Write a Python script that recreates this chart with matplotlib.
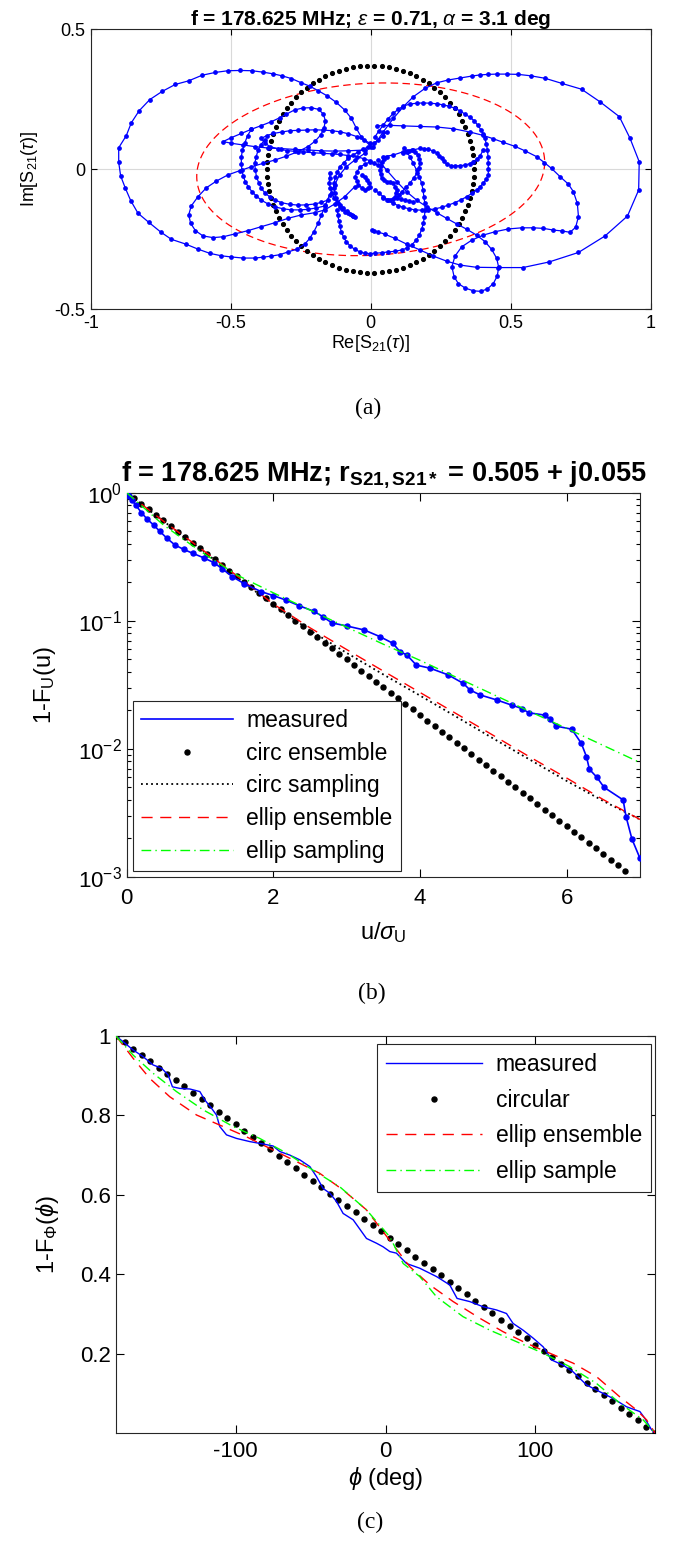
import numpy as np
import matplotlib
matplotlib.use('Agg')
import matplotlib.pyplot as plt
from matplotlib.lines import Line2D
from matplotlib.ticker import LogLocator, NullFormatter

plt.rcParams['font.family'] = ['Liberation Sans', 'DejaVu Sans']
plt.rcParams['mathtext.fontset'] = 'custom'
plt.rcParams['mathtext.rm'] = 'Liberation Sans'
plt.rcParams['mathtext.it'] = 'Liberation Sans:italic'
plt.rcParams['mathtext.bf'] = 'Liberation Sans:bold'
plt.rcParams['axes.unicode_minus'] = False

# ---------------- DATA: panel (a) ----------------
path_outer_left = [(0.002,0.081),(-0.033,0.114),(-0.051,0.146),(-0.069,0.182),(-0.093,0.212),(-0.123,0.239),(-0.155,0.262),(-0.188,0.281),(-0.218,0.297),(-0.248,0.309),(-0.283,0.324),(-0.317,0.334),(-0.349,0.341),(-0.385,0.347),(-0.424,0.352),(-0.466,0.353),(-0.510,0.352),(-0.555,0.346),(-0.602,0.336),(-0.650,0.316),(-0.698,0.303),(-0.745,0.278),(-0.789,0.249),(-0.827,0.209),(-0.855,0.166),(-0.873,0.120),(-0.900,0.077),(-0.900,0.025),(-0.893,-0.024),(-0.876,-0.068),(-0.857,-0.112),(-0.831,-0.157),(-0.793,-0.189),(-0.750,-0.224),(-0.712,-0.250),(-0.661,-0.267),(-0.617,-0.285),(-0.575,-0.300),(-0.533,-0.309),(-0.498,-0.313),(-0.456,-0.317),(-0.414,-0.317),(-0.385,-0.314),(-0.355,-0.310),(-0.325,-0.305),(-0.295,-0.295),(-0.263,-0.285),(-0.236,-0.268),(-0.218,-0.247),(-0.203,-0.223),(-0.188,-0.193),(-0.176,-0.163),(-0.162,-0.128),(-0.147,-0.092),(-0.129,-0.056),(-0.111,-0.020),(-0.087,0.009),(-0.057,0.033),(-0.021,0.057)]
path_outer_right = [(0.009,0.081),(0.045,0.134),(0.081,0.182),(0.117,0.224),(0.152,0.259),(0.194,0.289),(0.236,0.309),(0.277,0.319),(0.319,0.326),(0.361,0.333),(0.390,0.337),(0.420,0.339),(0.450,0.340),(0.486,0.340),(0.527,0.339),(0.571,0.334),(0.623,0.325),(0.682,0.307),(0.753,0.286),(0.819,0.241),(0.888,0.188),(0.926,0.111),(0.959,0.027),(0.957,-0.074),(0.917,-0.167),(0.837,-0.238),(0.742,-0.297),(0.637,-0.331),(0.543,-0.351),(0.456,-0.351),(0.378,-0.350),(0.319,-0.342),(0.271,-0.328),(0.224,-0.310),(0.176,-0.288),(0.128,-0.267),(0.087,-0.247),(0.051,-0.232),(0.027,-0.224),(0.012,-0.219),(0.005,-0.217)]
path_left_lobes = [(-0.021,0.069),(-0.081,0.066),(-0.129,0.065),(-0.176,0.066),(-0.224,0.069),(-0.272,0.071),(-0.319,0.074),(-0.367,0.076),(-0.414,0.081),(-0.456,0.087),(-0.498,0.093),(-0.527,0.099),(-0.498,0.113),(-0.462,0.128),(-0.426,0.143),(-0.391,0.156),(-0.355,0.170),(-0.325,0.184),(-0.301,0.197),(-0.272,0.212),(-0.242,0.219),(-0.212,0.220),(-0.186,0.214),(-0.169,0.197),(-0.162,0.174),(-0.167,0.146),(-0.179,0.122),(-0.198,0.101),(-0.224,0.081),(-0.260,0.063),(-0.301,0.047),(-0.343,0.033),(-0.385,0.021),(-0.426,0.009),(-0.468,-0.005),(-0.510,-0.020),(-0.551,-0.042),(-0.587,-0.066),(-0.617,-0.098),(-0.641,-0.131),(-0.650,-0.163),(-0.643,-0.193),(-0.626,-0.219),(-0.599,-0.238),(-0.563,-0.244),(-0.527,-0.241),(-0.486,-0.231),(-0.438,-0.219),(-0.391,-0.205),(-0.343,-0.191),(-0.295,-0.175),(-0.248,-0.163),(-0.200,-0.155),(-0.164,-0.145),(-0.129,-0.124),(-0.093,-0.098),(-0.057,-0.062)]
path_leaf = [(-0.003,0.093),(-0.025,0.106),(-0.050,0.117),(-0.080,0.127),(-0.110,0.134),(-0.140,0.138),(-0.169,0.140),(-0.200,0.141),(-0.229,0.140),(-0.259,0.139),(-0.288,0.138),(-0.318,0.133),(-0.348,0.128),(-0.372,0.120),(-0.391,0.110),(-0.378,0.094),(-0.360,0.081),(-0.330,0.073),(-0.300,0.067),(-0.270,0.064),(-0.241,0.062),(-0.205,0.059),(-0.169,0.057),(-0.140,0.055),(-0.110,0.053),(-0.080,0.049),(-0.050,0.045),(-0.025,0.038),(-0.003,0.031)]
path_left_c1 = [(-0.426,0.143),(-0.440,0.120),(-0.450,0.093),(-0.458,0.068),(-0.462,0.045),(-0.462,0.020),(-0.460,-0.003),(-0.455,-0.024),(-0.448,-0.044),(-0.437,-0.063),(-0.424,-0.080),(-0.408,-0.096),(-0.391,-0.110),(-0.368,-0.123),(-0.343,-0.134),(-0.313,-0.141),(-0.283,-0.145),(-0.253,-0.145),(-0.224,-0.143),(-0.194,-0.138),(-0.164,-0.131)]
path_left_c2 = [(-0.379,0.105),(-0.392,0.088),(-0.402,0.069),(-0.409,0.045),(-0.414,0.021),(-0.412,-0.003),(-0.408,-0.026),(-0.400,-0.048),(-0.391,-0.068),(-0.377,-0.085),(-0.361,-0.098),(-0.341,-0.110),(-0.319,-0.119),(-0.290,-0.125),(-0.260,-0.128),(-0.230,-0.127),(-0.200,-0.124),(-0.176,-0.118),(-0.153,-0.110)]
path_right_c = [(0.015,0.116),(0.030,0.138),(0.045,0.158),(0.062,0.180),(0.081,0.200),(0.098,0.214),(0.117,0.226),(0.140,0.233),(0.164,0.236),(0.188,0.237),(0.212,0.236),(0.236,0.234),(0.259,0.230),(0.281,0.225),(0.301,0.218),(0.320,0.208),(0.337,0.197),(0.354,0.186),(0.369,0.174),(0.382,0.158),(0.393,0.142),(0.402,0.126),(0.408,0.110),(0.413,0.090),(0.417,0.069),(0.419,0.045),(0.420,0.021),(0.420,0.000),(0.420,-0.020),(0.412,-0.036),(0.402,-0.050),(0.391,-0.062),(0.378,-0.074),(0.361,-0.086),(0.343,-0.098),(0.322,-0.109),(0.301,-0.119),(0.277,-0.128),(0.253,-0.136),(0.230,-0.141),(0.206,-0.145),(0.182,-0.146),(0.158,-0.145),(0.137,-0.141),(0.117,-0.136),(0.099,-0.130),(0.081,-0.122),(0.063,-0.111),(0.045,-0.098),(0.030,-0.086),(0.015,-0.074)]
path_right_lobes = [(0.021,0.155),(0.069,0.157),(0.117,0.155),(0.176,0.153),(0.236,0.151),(0.295,0.145),(0.355,0.133),(0.402,0.121),(0.438,0.109),(0.474,0.096),(0.515,0.082),(0.551,0.066),(0.593,0.045),(0.620,0.024),(0.646,0.003),(0.676,-0.026),(0.706,-0.053),(0.724,-0.080),(0.738,-0.122),(0.742,-0.169),(0.732,-0.207),(0.712,-0.225),(0.682,-0.220),(0.652,-0.217),(0.617,-0.211),(0.581,-0.209),(0.539,-0.209),(0.492,-0.213),(0.444,-0.223),(0.402,-0.235),(0.361,-0.253),(0.325,-0.277),(0.301,-0.310),(0.290,-0.348),(0.298,-0.384),(0.313,-0.408),(0.337,-0.424),(0.367,-0.434),(0.393,-0.436),(0.417,-0.427),(0.438,-0.408),(0.452,-0.381),(0.457,-0.350),(0.450,-0.318),(0.432,-0.286),(0.408,-0.258),(0.378,-0.235),(0.343,-0.214),(0.307,-0.195),(0.271,-0.175),(0.236,-0.155),(0.200,-0.134),(0.164,-0.110),(0.128,-0.080),(0.093,-0.044),(0.057,-0.003),(0.027,0.033)]
path_wave = [(0.045,0.045),(0.081,0.051),(0.117,0.063),(0.135,0.067),(0.152,0.069),(0.176,0.075),(0.192,0.074),(0.206,0.071),(0.222,0.066),(0.236,0.059),(0.245,0.049),(0.253,0.039),(0.262,0.028),(0.271,0.019),(0.286,0.013),(0.301,0.012),(0.320,0.013),(0.337,0.015),(0.353,0.020),(0.367,0.027),(0.380,0.036),(0.390,0.047),(0.402,0.069)]
path_inner_c = [(0.120,0.075),(0.130,0.060),(0.140,0.045),(0.152,0.021),(0.164,-0.003),(0.174,-0.027),(0.182,-0.050),(0.187,-0.074),(0.190,-0.098),(0.193,-0.121),(0.194,-0.145),(0.192,-0.169),(0.188,-0.193),(0.182,-0.214),(0.174,-0.235),(0.162,-0.254),(0.146,-0.270),(0.130,-0.281),(0.111,-0.288),(0.087,-0.293),(0.063,-0.295),(0.039,-0.298),(0.015,-0.300),(-0.003,-0.301),(-0.021,-0.300),(-0.040,-0.294),(-0.057,-0.286),(-0.073,-0.274),(-0.087,-0.259),(-0.097,-0.242),(-0.105,-0.223),(-0.110,-0.204),(-0.114,-0.184),(-0.117,-0.165),(-0.119,-0.145)]
path_center_1 = [(-0.145,-0.014),(-0.147,-0.032),(-0.148,-0.050),(-0.144,-0.068),(-0.139,-0.086),(-0.131,-0.101),(-0.121,-0.116),(-0.110,-0.128),(-0.098,-0.139),(-0.086,-0.150),(-0.074,-0.160),(-0.064,-0.166),(-0.056,-0.172),(-0.062,-0.168),(-0.068,-0.163),(-0.080,-0.157),(-0.092,-0.151),(-0.101,-0.142),(-0.110,-0.133),(-0.118,-0.119),(-0.124,-0.104),(-0.128,-0.086),(-0.131,-0.068),(-0.130,-0.048),(-0.127,-0.028),(-0.119,-0.010),(-0.110,0.009),(-0.096,0.024),(-0.080,0.039),(-0.062,0.051),(-0.044,0.063),(-0.026,0.072),(-0.008,0.081),(0.010,0.093),(0.027,0.105),(0.043,0.120),(0.057,0.134)]
path_center_2 = [(0.057,0.045),(0.047,0.036),(0.039,0.027),(0.035,0.012),(0.033,-0.002),(0.035,-0.017),(0.039,-0.032),(0.047,-0.039),(0.057,-0.044),(0.069,-0.047),(0.081,-0.050),(0.088,-0.062),(0.093,-0.074),(0.091,-0.086),(0.087,-0.098),(0.078,-0.105),(0.069,-0.110),(0.057,-0.108),(0.045,-0.104)]
path_center_3 = [(0.116,0.057),(0.131,0.064),(0.146,0.069),(0.159,0.061),(0.170,0.051),(0.174,0.036),(0.176,0.021),(0.171,0.003),(0.164,-0.015),(0.153,-0.032),(0.140,-0.050),(0.126,-0.065),(0.111,-0.080),(0.101,-0.092),(0.093,-0.104),(0.108,-0.107),(0.122,-0.110),(0.137,-0.113),(0.152,-0.116)]
path_center_4 = [(-0.032,-0.020),(-0.022,-0.029),(-0.014,-0.038),(-0.007,-0.050),(-0.002,-0.062),(-0.011,-0.068),(-0.020,-0.074),(-0.032,-0.066),(-0.044,-0.056),(-0.050,-0.041),(-0.056,-0.026),(-0.048,-0.008),(-0.038,0.009),(-0.020,0.018),(-0.003,0.027),(0.012,0.021),(0.027,0.015)]

traj_paths = [path_outer_left, path_outer_right, path_left_lobes, path_leaf, path_left_c1,
              path_left_c2, path_right_c, path_right_lobes, path_wave, path_inner_c,
              path_center_1, path_center_2, path_center_3, path_center_4]

circ_radius = 0.37
circ_npts = 90
ell_a, ell_b, ell_tilt_deg = 0.622, 0.307, 3.1

# ---------------- DATA: panel (b) ----------------
meas_u = [0, 0.03, 0.07, 0.123, 0.2, 0.28, 0.366, 0.45, 0.55, 0.659, 0.78, 0.902, 1.05, 1.19, 1.3, 1.44, 1.6, 1.83, 2.0, 2.17, 2.35, 2.56, 2.68, 2.80, 3.0, 3.24, 3.455, 3.63, 3.727, 3.82, 3.95, 4.14, 4.385, 4.59, 4.68, 4.82, 5.05, 5.25, 5.39, 5.48, 5.70, 5.77, 5.86, 6.07, 6.20, 6.27, 6.31, 6.41, 6.51, 6.77, 6.81, 6.89, 7.0]
meas_ccdf = [1.0, 0.95, 0.88, 0.80, 0.70, 0.62, 0.56, 0.50, 0.44, 0.39, 0.36, 0.336, 0.31, 0.284, 0.255, 0.221, 0.195, 0.169, 0.157, 0.145, 0.131, 0.118, 0.107, 0.096, 0.091, 0.0846, 0.075, 0.0666, 0.0573, 0.054, 0.045, 0.0425, 0.0377, 0.0324, 0.0288, 0.0263, 0.024, 0.0219, 0.0206, 0.0191, 0.0183, 0.017, 0.015, 0.0142, 0.011, 0.00866, 0.0069, 0.0060, 0.00499, 0.00398, 0.00294, 0.00197, 0.00139]
circ_ens_u_max, circ_ens_step = 6.8, 0.1     # Rayleigh ensemble: 1-F = exp(-u)
model_u = [0, 0.5, 1, 1.5, 2, 2.5, 3, 3.5, 4, 4.5, 5, 5.5, 6, 6.5, 7]
circ_samp_ccdf = [1, 0.60, 0.365, 0.22, 0.132, 0.084, 0.056, 0.038, 0.026, 0.0177, 0.012, 0.0082, 0.0056, 0.0039, 0.0028]
ellip_ens_ccdf = [1, 0.60, 0.37, 0.225, 0.135, 0.088, 0.0595, 0.0404, 0.0275, 0.0187, 0.0127, 0.0086, 0.0059, 0.0040, 0.0028]
ellip_samp_ccdf = [1, 0.56, 0.35, 0.228, 0.165, 0.121, 0.089, 0.0655, 0.049, 0.036, 0.0265, 0.0195, 0.0144, 0.0106, 0.0078]

# ---------------- DATA: panel (c) ----------------
meas_phi = [-180, -174.1, -168.6, -161.9, -155.2, -149.6, -145.2, -142.3, -137.4, -130.7, -124.0, -120.7, -116.2, -112.9, -110.7, -106.2, -99.5, -90.6, -81.8, -75.1, -70.6, -63.9, -57.2, -50.5, -46.1, -41.7, -37.2, -32.7, -28.3, -21.6, -12.7, -6.0, -1.6, 2.9, 7.3, 14.0, 22.9, 34.1, 42.9, 47.8, 56.3, 65.2, 74.1, 80.8, 85.2, 91.9, 98.6, 105.3, 107.5, 110.9, 118.6, 125.3, 134.3, 143.1, 152.0, 161.0, 169.9, 173.2, 177.7, 180]
meas_phi_ccdf = [1.0, 0.982, 0.965, 0.948, 0.927, 0.919, 0.902, 0.872, 0.868, 0.8665, 0.860, 0.839, 0.818, 0.801, 0.772, 0.751, 0.742, 0.734, 0.728, 0.723, 0.709, 0.700, 0.688, 0.671, 0.646, 0.616, 0.604, 0.583, 0.553, 0.537, 0.490, 0.478, 0.469, 0.457, 0.453, 0.427, 0.415, 0.394, 0.373, 0.339, 0.331, 0.318, 0.310, 0.301, 0.276, 0.259, 0.239, 0.217, 0.205, 0.184, 0.171, 0.154, 0.121, 0.104, 0.087, 0.066, 0.054, 0.037, 0.008, 0.0]
circ_phi_npts = 64
ens_phi = [-180, -168.6, -157.4, -144.1, -126.2, -108.5, -92.8, -77.3, -61.7, -43.9, -28.3, -12.7, -1.6, 5.1, 16.2, 29.6, 45.2, 63.0, 78.6, 94.2, 109.7, 125.3, 140.9, 156.5, 167.7, 174.4, 180]
ens_phi_ccdf = [1.0, 0.944, 0.893, 0.847, 0.801, 0.772, 0.746, 0.717, 0.688, 0.654, 0.612, 0.562, 0.507, 0.474, 0.419, 0.373, 0.331, 0.289, 0.255, 0.226, 0.201, 0.176, 0.142, 0.091, 0.058, 0.033, 0.0]
samp_phi = [-180, -168.6, -155.2, -139.6, -121.8, -101.8, -84.0, -66.1, -48.4, -30.5, -12.7, 2.9, 11.8, 22.9, 34.1, 51.8, 69.7, 87.5, 105.3, 123.1, 140.9, 156.5, 172.1, 180]
samp_phi_ccdf = [1.0, 0.952, 0.906, 0.860, 0.814, 0.772, 0.742, 0.705, 0.662, 0.620, 0.562, 0.494, 0.427, 0.394, 0.343, 0.293, 0.259, 0.230, 0.201, 0.167, 0.125, 0.075, 0.033, 0.0]

# ---------------- FIGURE ----------------
W, H = 673, 1562
fig = plt.figure(figsize=(W / 100, H / 100), dpi=100)

def px_axes(l, t, r, b):
    return fig.add_axes([l / W, 1 - b / H, (r - l) / W, (b - t) / H])

def style_spines(ax):
    for s in ax.spines.values():
        s.set_linewidth(0.8)
        s.set_color('#262626')

BLUE = '#0000ff'
RED = '#ff0000'
GREEN = '#00ff00'
RED_DASH = (8, 5.5)
GREEN_DASHDOT = (7, 3, 1, 3)

# ----- panel (a)
axa = px_axes(90.7, 29.3, 650.7, 309.3)
th = np.linspace(0, 2 * np.pi, circ_npts, endpoint=False)
axa.plot(circ_radius * np.cos(th), circ_radius * np.sin(th), 'o', color='k', ms=2.7, mec='k', lw=0, zorder=3)
te = np.linspace(0, 2 * np.pi, 400)
tr = np.deg2rad(ell_tilt_deg)
ex = ell_a * np.cos(te) * np.cos(tr) - ell_b * np.sin(te) * np.sin(tr)
ey = ell_a * np.cos(te) * np.sin(tr) + ell_b * np.sin(te) * np.cos(tr)
axa.plot(ex, ey, '--', color=RED, lw=0.9, dashes=(6, 3.5), zorder=2)
for p in traj_paths:
    arr = np.array(p)
    axa.plot(arr[:, 0], arr[:, 1], '-', color=BLUE, lw=0.9, marker='o', ms=2.4, mec=BLUE, mfc=BLUE, zorder=4)
axa.set_xlim(-1, 1)
axa.set_ylim(-0.5, 0.5)
axa.set_xticks([-1, -0.5, 0, 0.5, 1])
axa.set_xticklabels(['-1', '-0.5', '0', '0.5', '1'])
axa.set_yticks([-0.5, 0, 0.5])
axa.set_yticklabels(['-0.5', '0', '0.5'])
axa.grid(True, color='#d9d9d9', lw=0.8)
axa.set_axisbelow(True)
axa.tick_params(direction='in', labelsize=13, length=4, top=True, right=True, width=0.8, pad=4)
style_spines(axa)
axa.set_title(r'f = 178.625 MHz; $\epsilon$ = 0.71, $\alpha$ = 3.1 deg', fontsize=15, fontweight='bold', pad=3)
axa.set_xlabel(r'Re[S$_{21}$($\tau$)]', fontsize=13, labelpad=1)
axa.set_ylabel(r'Im[S$_{21}$($\tau$)]', fontsize=13, labelpad=10)

fig.text(0.547, 1 - 408 / H, '(a)', ha='center', va='center', fontsize=17, family='Liberation Serif')

# ----- panel (b)
axb = px_axes(126.7, 492.7, 640, 876.7)
u_ens = np.arange(0, circ_ens_u_max + 1e-9, circ_ens_step)
axb.semilogy(meas_u, meas_ccdf, '-', color=BLUE, lw=1.2, marker='o', ms=3.6, mec=BLUE, mfc=BLUE, zorder=5)
axb.semilogy(u_ens, np.exp(-u_ens), 'o', color='k', ms=3.6, lw=0, zorder=3)
axb.semilogy(model_u, circ_samp_ccdf, ':', color='k', lw=1.3, dashes=(1, 1.8), zorder=4)
axb.semilogy(model_u, ellip_ens_ccdf, '--', color=RED, lw=1.0, dashes=RED_DASH, zorder=4)
axb.semilogy(model_u, ellip_samp_ccdf, '-.', color=GREEN, lw=1.0, dashes=GREEN_DASHDOT, zorder=6)
axb.set_xlim(0, 7)
axb.set_ylim(1e-3, 1)
axb.set_xticks([0, 2, 4, 6])
axb.yaxis.set_major_locator(LogLocator(base=10, numticks=10))
axb.yaxis.set_minor_locator(LogLocator(base=10, subs=np.arange(2, 10), numticks=20))
axb.yaxis.set_minor_formatter(NullFormatter())
axb.tick_params(which='both', direction='in', top=True, right=True, labelsize=16, width=0.8)
axb.tick_params(axis='x', pad=8)
axb.tick_params(which='major', length=6)
axb.tick_params(which='minor', length=3)
style_spines(axb)
axb.set_title(r'f = 178.625 MHz; r$_{\mathbf{S21,S21*}}$ = 0.505 + j0.055', fontsize=19.5, fontweight='bold', pad=9)
axb.set_xlabel(r'u/$\sigma_{\mathrm{U}}$', fontsize=17, labelpad=8)
axb.set_ylabel(r'1-F$_{\mathrm{U}}$(u)', fontsize=17, labelpad=14)
handles_b = [Line2D([], [], color=BLUE, lw=1.2),
             Line2D([], [], color='k', marker='o', ms=3.6, lw=0),
             Line2D([], [], color='k', lw=1.3, ls=':', dashes=(1, 1.8)),
             Line2D([], [], color=RED, lw=1.0, ls='--', dashes=RED_DASH),
             Line2D([], [], color=GREEN, lw=1.0, ls='-.', dashes=GREEN_DASHDOT)]
labels_b = ['measured', 'circ ensemble', 'circ sampling', 'ellip ensemble', 'ellip sampling']
leg = axb.legend(handles_b, labels_b, loc='lower left', bbox_to_anchor=(0.012, 0.0156), borderaxespad=0,
                 fontsize=16.5, frameon=True, fancybox=False, edgecolor='#262626', framealpha=1,
                 handlelength=4.0, labelspacing=0.42, borderpad=0.35, handletextpad=0.6)
leg.get_frame().set_linewidth(0.8)

fig.text(0.553, 1 - 993 / H, '(b)', ha='center', va='center', fontsize=17, family='Liberation Serif')

# ----- panel (c)
axc = px_axes(116, 1036, 655, 1433)
phi_c = np.linspace(-180, 180, circ_phi_npts)
axc.plot(meas_phi, meas_phi_ccdf, '-', color=BLUE, lw=1.0, zorder=4)
axc.plot(phi_c, (180 - phi_c) / 360, 'o', color='k', ms=3.6, lw=0, zorder=3)
axc.plot(ens_phi, ens_phi_ccdf, '--', color=RED, lw=1.0, dashes=RED_DASH, zorder=4)
axc.plot(samp_phi, samp_phi_ccdf, '-.', color=GREEN, lw=1.0, dashes=GREEN_DASHDOT, zorder=5)
axc.set_xlim(-180, 180)
axc.set_ylim(0, 1)
axc.set_xticks([-100, 0, 100])
axc.set_yticks([0.2, 0.4, 0.6, 0.8, 1])
axc.set_yticklabels(['0.2', '0.4', '0.6', '0.8', '1'])
axc.tick_params(which='both', direction='in', top=True, right=True, labelsize=16, length=6, width=0.8)
axc.tick_params(axis='x', pad=6)
style_spines(axc)
axc.set_xlabel(r'$\phi$ (deg)', fontsize=17, labelpad=2)
axc.set_ylabel(r'1-F$_{\Phi}$($\phi$)', fontsize=17, labelpad=14)
handles_c = [Line2D([], [], color=BLUE, lw=1.0),
             Line2D([], [], color='k', marker='o', ms=3.6, lw=0),
             Line2D([], [], color=RED, lw=1.0, ls='--', dashes=RED_DASH),
             Line2D([], [], color=GREEN, lw=1.0, ls='-.', dashes=GREEN_DASHDOT)]
labels_c = ['measured', 'circular', 'ellip ensemble', 'ellip sample']
leg = axc.legend(handles_c, labels_c, loc='upper right', bbox_to_anchor=(0.993, 0.98), borderaxespad=0,
                 fontsize=16.5, frameon=True, fancybox=False, edgecolor='#262626', framealpha=1,
                 handlelength=4.2, labelspacing=0.55, borderpad=0.4, handletextpad=0.6)
leg.get_frame().set_linewidth(0.8)

fig.text(0.550, 1 - 1522 / H, '(c)', ha='center', va='center', fontsize=17, family='Liberation Serif')

fig.savefig('out.png', dpi=100)
